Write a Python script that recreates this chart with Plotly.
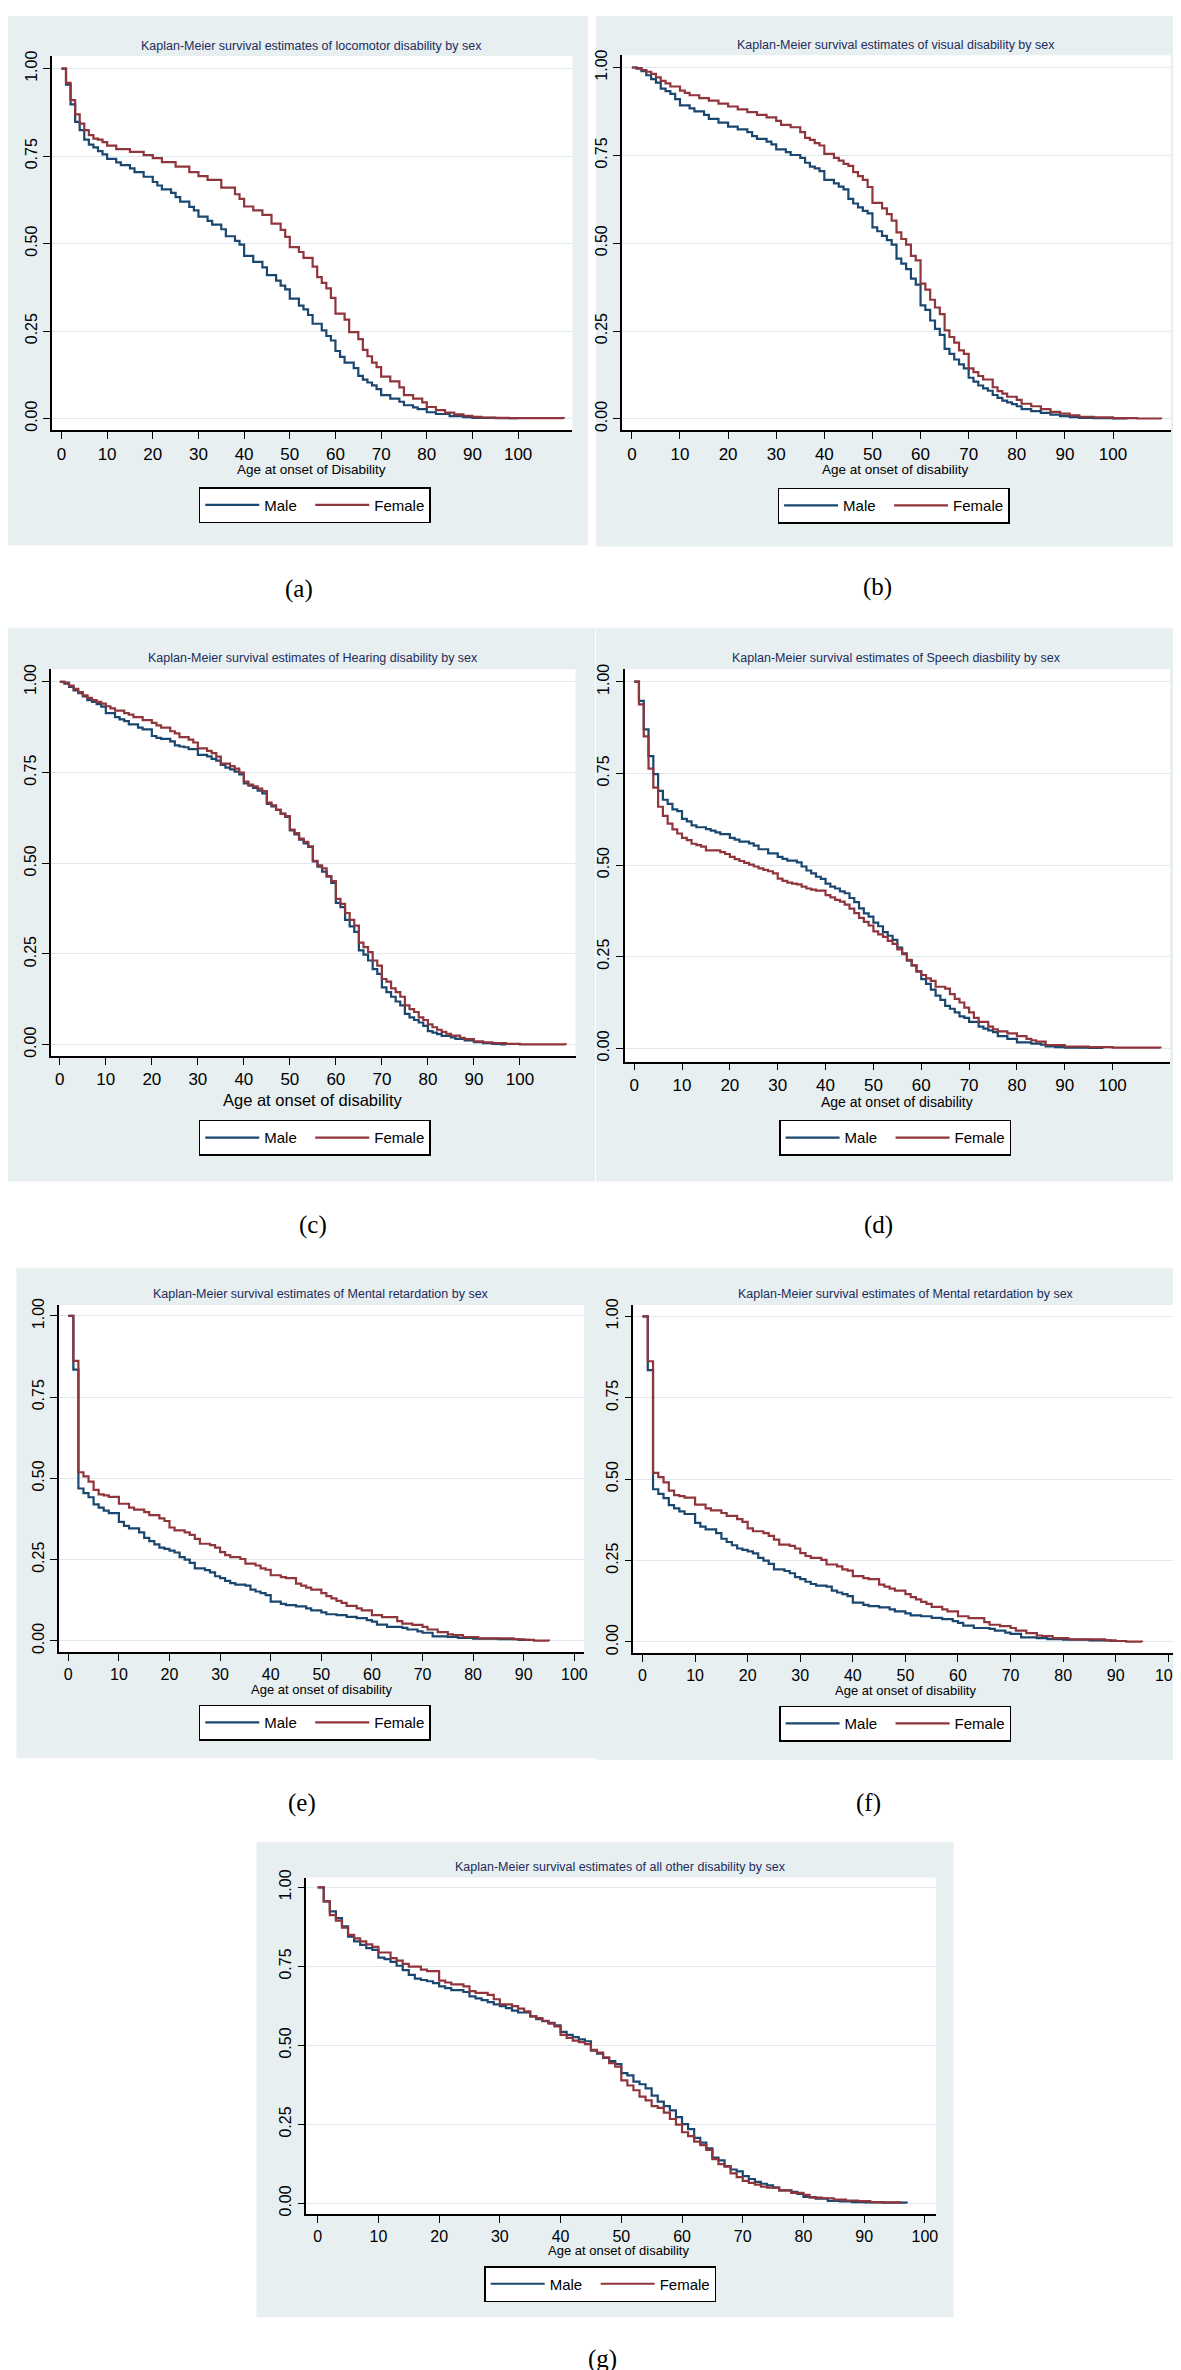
import plotly.graph_objects as go

# ---------------- data ----------------
a_male_age = [0,1,2,3,4,5,6,7,8,9,10,12,13,15,16,18,20,21,22,24,25,26,28,29,30,32,33,35,36,38,39,40,42,44,45,47,48,49,50,52,53,54,55,57,58,59,60,61,62,64,65,66,67,68,69,70,72,74,75,77,78,80,82,85,88,90,95,100]
a_male_surv = [1.0,0.954,0.898,0.848,0.824,0.797,0.783,0.775,0.764,0.755,0.742,0.732,0.724,0.715,0.704,0.691,0.676,0.666,0.655,0.645,0.633,0.62,0.605,0.595,0.577,0.565,0.554,0.541,0.521,0.508,0.497,0.465,0.448,0.432,0.41,0.394,0.38,0.369,0.343,0.323,0.312,0.296,0.271,0.252,0.236,0.223,0.193,0.176,0.16,0.144,0.122,0.111,0.103,0.095,0.084,0.067,0.057,0.048,0.038,0.032,0.027,0.018,0.013,0.007,0.004,0.002,0.001,0.0]
a_female_age = [0,1,2,3,4,5,6,7,8,9,10,12,15,18,20,22,25,28,30,32,35,38,39,40,42,44,46,48,49,50,52,53,55,56,57,58,59,60,62,63,65,66,67,68,69,70,72,74,75,77,79,80,82,84,86,88,90,92,95,98,110]
a_female_surv = [1.0,0.959,0.91,0.869,0.843,0.824,0.81,0.80,0.797,0.79,0.78,0.77,0.762,0.753,0.744,0.733,0.72,0.704,0.693,0.682,0.66,0.641,0.628,0.606,0.595,0.582,0.557,0.539,0.519,0.49,0.476,0.459,0.434,0.404,0.388,0.372,0.345,0.30,0.283,0.247,0.227,0.196,0.178,0.16,0.147,0.12,0.106,0.089,0.067,0.057,0.046,0.033,0.024,0.017,0.012,0.008,0.005,0.003,0.002,0.001,0.0]

b_male_age = [0,1,2,3,4,5,6,7,8,9,10,12,13,15,16,18,20,22,24,25,26,28,29,30,32,33,35,36,37,38,39,40,42,43,44,45,46,47,48,49,50,51,52,53,54,55,56,57,58,59,60,61,62,63,64,65,66,67,68,69,70,71,72,73,74,75,76,77,78,79,80,81,83,85,87,89,91,93,96,100,103]
b_male_surv = [1.0,0.997,0.99,0.978,0.967,0.957,0.94,0.933,0.925,0.91,0.892,0.884,0.875,0.865,0.854,0.843,0.832,0.824,0.816,0.805,0.797,0.789,0.781,0.767,0.759,0.751,0.743,0.729,0.718,0.713,0.705,0.68,0.67,0.661,0.653,0.626,0.613,0.602,0.592,0.585,0.545,0.534,0.521,0.509,0.496,0.456,0.442,0.426,0.399,0.382,0.323,0.31,0.28,0.256,0.239,0.199,0.185,0.169,0.155,0.144,0.117,0.106,0.095,0.087,0.08,0.068,0.06,0.052,0.047,0.042,0.036,0.028,0.022,0.017,0.012,0.008,0.005,0.003,0.002,0.001,0.0]
b_female_age = [0,1,2,3,4,5,6,7,8,10,11,12,14,16,18,20,22,24,26,28,30,31,33,35,36,37,38,39,40,42,43,44,45,46,47,48,49,50,52,53,54,55,56,57,58,59,60,61,62,63,64,65,66,67,68,69,70,71,72,73,75,76,77,78,80,81,83,85,87,89,91,93,96,100,105,110]
b_female_surv = [1.0,0.998,0.993,0.988,0.982,0.972,0.962,0.955,0.946,0.934,0.928,0.921,0.913,0.906,0.897,0.889,0.881,0.873,0.865,0.858,0.848,0.837,0.83,0.816,0.80,0.794,0.785,0.778,0.754,0.743,0.735,0.726,0.72,0.702,0.691,0.68,0.66,0.615,0.599,0.583,0.564,0.531,0.512,0.496,0.464,0.451,0.385,0.368,0.339,0.317,0.298,0.252,0.233,0.217,0.195,0.185,0.144,0.133,0.122,0.112,0.09,0.079,0.072,0.063,0.054,0.043,0.036,0.028,0.02,0.015,0.01,0.006,0.004,0.002,0.001,0.0]

c_male_age = [0,1,2,3,4,5,6,7,8,9,10,12,13,14,15,17,18,20,21,22,24,25,26,27,28,30,32,33,34,35,36,37,38,39,40,41,42,43,44,45,46,47,48,49,50,51,52,53,54,55,56,57,58,59,60,61,62,63,64,65,66,67,68,69,70,71,72,73,74,75,76,77,78,79,80,81,82,83,85,86,88,90,92,94,96,97]
c_male_surv = [1.0,0.995,0.986,0.977,0.969,0.96,0.95,0.945,0.939,0.932,0.914,0.903,0.897,0.892,0.883,0.874,0.869,0.851,0.846,0.843,0.836,0.825,0.822,0.82,0.815,0.799,0.795,0.788,0.783,0.771,0.764,0.759,0.753,0.745,0.72,0.714,0.708,0.70,0.693,0.664,0.657,0.647,0.637,0.628,0.591,0.58,0.565,0.555,0.545,0.505,0.491,0.477,0.463,0.446,0.391,0.379,0.344,0.326,0.311,0.26,0.248,0.232,0.208,0.195,0.158,0.145,0.132,0.119,0.108,0.085,0.075,0.068,0.061,0.052,0.037,0.033,0.029,0.024,0.02,0.016,0.012,0.007,0.004,0.002,0.001,0.0]
c_female_age = [0,1,2,3,4,5,6,7,8,9,10,11,12,14,15,16,18,20,21,22,24,25,26,28,29,30,32,33,34,35,37,38,39,40,41,42,43,44,45,46,47,48,49,50,51,52,53,54,55,56,57,58,59,60,61,62,63,64,65,66,67,68,69,70,71,72,73,74,75,76,77,78,79,80,81,82,83,84,85,87,88,90,92,94,97,100,110]
c_female_surv = [1.0,0.998,0.99,0.981,0.972,0.963,0.956,0.95,0.945,0.94,0.933,0.927,0.921,0.914,0.91,0.903,0.895,0.887,0.88,0.874,0.864,0.858,0.848,0.841,0.833,0.817,0.81,0.804,0.794,0.775,0.768,0.761,0.75,0.725,0.717,0.712,0.706,0.699,0.667,0.66,0.648,0.636,0.63,0.593,0.583,0.568,0.559,0.547,0.507,0.494,0.486,0.465,0.451,0.402,0.388,0.363,0.344,0.328,0.281,0.269,0.255,0.232,0.218,0.181,0.174,0.155,0.145,0.132,0.108,0.098,0.09,0.075,0.068,0.056,0.048,0.041,0.035,0.03,0.025,0.019,0.015,0.009,0.006,0.004,0.002,0.001,0.0]

d_male_age = [0,1,2,3,4,5,6,7,8,9,10,11,12,13,15,16,17,18,20,21,22,24,25,26,28,30,31,32,34,35,36,37,38,39,40,41,42,43,44,45,46,47,48,49,50,51,52,53,54,55,56,57,58,59,60,61,62,63,64,65,66,67,68,69,70,72,73,74,75,76,78,80,83,85,86,88,90,95,98]
d_male_surv = [1.0,0.948,0.87,0.797,0.748,0.702,0.678,0.667,0.652,0.647,0.626,0.619,0.608,0.603,0.598,0.594,0.589,0.584,0.574,0.569,0.564,0.559,0.553,0.543,0.532,0.522,0.517,0.512,0.507,0.496,0.485,0.477,0.468,0.462,0.449,0.441,0.436,0.428,0.423,0.41,0.399,0.382,0.368,0.359,0.343,0.333,0.317,0.307,0.296,0.275,0.259,0.239,0.226,0.21,0.189,0.176,0.16,0.144,0.132,0.116,0.108,0.098,0.087,0.083,0.072,0.059,0.054,0.049,0.044,0.033,0.026,0.016,0.013,0.01,0.005,0.003,0.002,0.001,0.0]
d_female_age = [0,1,2,3,4,5,6,7,8,9,10,11,12,13,14,15,18,19,20,21,22,23,24,25,26,27,28,29,30,31,32,33,34,35,36,37,38,40,41,42,43,44,45,46,47,48,49,50,51,52,53,54,55,56,57,58,59,60,61,62,63,65,66,67,68,69,70,71,72,74,75,76,78,80,82,83,84,86,90,95,100,110]
d_female_surv = [1.0,0.938,0.851,0.763,0.711,0.659,0.634,0.613,0.597,0.586,0.574,0.568,0.558,0.554,0.55,0.54,0.535,0.53,0.522,0.516,0.511,0.506,0.501,0.496,0.491,0.487,0.483,0.477,0.463,0.457,0.452,0.449,0.447,0.441,0.436,0.433,0.43,0.418,0.412,0.405,0.40,0.392,0.381,0.369,0.356,0.345,0.335,0.319,0.311,0.304,0.293,0.285,0.27,0.257,0.241,0.226,0.21,0.20,0.191,0.184,0.168,0.163,0.148,0.135,0.125,0.111,0.098,0.083,0.072,0.059,0.052,0.046,0.041,0.033,0.026,0.022,0.018,0.009,0.005,0.003,0.002,0.0]

# Mental retardation (panels e and f show the same estimates)
mr_male_age = [0,1,2,3,4,5,6,7,8,10,11,12,14,15,16,17,18,19,20,21,22,23,24,25,27,28,29,30,31,32,33,35,36,37,38,39,40,42,43,45,47,48,50,51,53,55,57,59,60,61,63,66,67,69,70,72,75,77,80,85,89,91]
mr_male_surv = [1.0,0.835,0.469,0.455,0.442,0.42,0.41,0.401,0.393,0.366,0.354,0.346,0.334,0.317,0.307,0.297,0.287,0.283,0.278,0.272,0.258,0.25,0.24,0.223,0.218,0.211,0.199,0.193,0.185,0.178,0.173,0.17,0.158,0.152,0.147,0.141,0.121,0.114,0.11,0.106,0.10,0.094,0.088,0.082,0.079,0.074,0.07,0.064,0.059,0.05,0.043,0.04,0.035,0.029,0.025,0.014,0.012,0.009,0.007,0.005,0.003,0.0]
mr_female_age = [0,1,2,3,4,5,6,7,8,10,12,13,15,16,18,19,20,21,23,24,25,26,28,29,30,31,32,34,35,37,38,39,40,42,43,45,46,47,48,50,51,52,53,54,55,57,58,60,62,65,66,68,70,71,73,75,76,78,81,88,90,92,95]
mr_female_surv = [1.0,0.862,0.519,0.506,0.49,0.465,0.451,0.448,0.443,0.422,0.41,0.404,0.396,0.387,0.377,0.369,0.349,0.34,0.334,0.326,0.314,0.299,0.295,0.287,0.273,0.264,0.258,0.252,0.238,0.232,0.223,0.219,0.202,0.196,0.193,0.176,0.17,0.164,0.158,0.147,0.138,0.131,0.123,0.117,0.108,0.10,0.094,0.079,0.073,0.061,0.053,0.049,0.043,0.035,0.027,0.02,0.018,0.012,0.008,0.005,0.003,0.001,0.0]

g_male_age = [0,1,2,3,4,5,6,7,8,9,10,11,12,13,14,15,16,17,18,19,20,21,22,24,25,26,27,28,29,30,31,32,33,35,36,37,38,39,40,41,42,43,44,45,46,47,48,49,50,51,52,53,54,55,56,57,58,59,60,61,62,63,64,65,66,67,68,69,70,71,72,73,74,75,76,78,79,80,82,84,86,88,90,93,97]
g_male_surv = [1.0,0.956,0.924,0.903,0.877,0.844,0.829,0.818,0.808,0.802,0.778,0.773,0.764,0.752,0.738,0.723,0.711,0.707,0.703,0.697,0.687,0.681,0.675,0.669,0.655,0.649,0.643,0.637,0.63,0.624,0.618,0.61,0.604,0.592,0.583,0.577,0.571,0.563,0.543,0.533,0.526,0.519,0.513,0.483,0.474,0.46,0.45,0.441,0.412,0.405,0.385,0.377,0.364,0.341,0.322,0.308,0.294,0.273,0.251,0.235,0.207,0.192,0.174,0.145,0.136,0.118,0.107,0.101,0.086,0.077,0.068,0.062,0.057,0.05,0.041,0.036,0.03,0.02,0.015,0.008,0.006,0.004,0.003,0.002,0.0]
g_female_age = [0,1,2,3,4,5,6,7,8,9,10,12,13,14,15,17,18,20,21,22,24,25,26,28,29,30,32,33,34,35,36,37,38,39,40,41,42,43,44,45,46,47,48,49,50,51,52,53,54,55,56,57,58,59,60,61,62,63,64,65,66,67,68,69,70,71,72,73,74,76,78,80,81,83,85,87,89,91,93,96]
g_female_surv = [1.0,0.956,0.912,0.895,0.873,0.85,0.839,0.829,0.82,0.812,0.794,0.776,0.768,0.758,0.749,0.74,0.735,0.705,0.699,0.693,0.687,0.672,0.666,0.66,0.646,0.63,0.624,0.616,0.608,0.592,0.586,0.578,0.569,0.56,0.533,0.524,0.515,0.51,0.504,0.486,0.477,0.462,0.444,0.433,0.389,0.373,0.358,0.338,0.326,0.308,0.302,0.287,0.267,0.249,0.225,0.213,0.195,0.184,0.169,0.14,0.124,0.116,0.095,0.083,0.071,0.065,0.059,0.053,0.05,0.041,0.033,0.027,0.018,0.016,0.012,0.009,0.007,0.004,0.003,0.0]

titles = [
    "Kaplan-Meier survival estimates of locomotor disability by sex",
    "Kaplan-Meier survival estimates of visual disability by sex",
    "Kaplan-Meier survival estimates of Hearing disability by sex",
    "Kaplan-Meier survival estimates of Speech diasbility by sex",
    "Kaplan-Meier survival estimates of Mental retardation by sex",
    "Kaplan-Meier survival estimates of Mental retardation by sex",
    "Kaplan-Meier survival estimates of all other disability by sex",
]
x_titles = ["Age at onset of Disability"] + ["Age at onset of disability"] * 6
captions = ["(a)", "(b)", "(c)", "(d)", "(e)", "(f)", "(g)"]
series_names = ["Male", "Female"]
x_ticks = [0, 10, 20, 30, 40, 50, 60, 70, 80, 90, 100]
y_ticks = [0.0, 0.25, 0.5, 0.75, 1.0]
y_tick_text = ["0.00", "0.25", "0.50", "0.75", "1.00"]

curves = [
    ((a_male_age, a_male_surv), (a_female_age, a_female_surv)),
    ((b_male_age, b_male_surv), (b_female_age, b_female_surv)),
    ((c_male_age, c_male_surv), (c_female_age, c_female_surv)),
    ((d_male_age, d_male_surv), (d_female_age, d_female_surv)),
    ((mr_male_age, mr_male_surv), (mr_female_age, mr_female_surv)),
    ((mr_male_age, mr_male_surv), (mr_female_age, mr_female_surv)),
    ((g_male_age, g_male_surv), (g_female_age, g_female_surv)),
]

# ---------------- layout geometry (pixels) ----------------
W, H = 1181, 2370
geo = [
    dict(plot=(44, 40.2, 566.4, 416.4), xr=(-2.10, 111.9), yr=(-0.034, 1.036), tick=17,
         bg=(0, 0, 582, 532), title=(305, 30), xt=(305, 456, 13.5), leg=(191.4, 473.4), cap=(292, 576)),
    dict(plot=(616, 39.4, 1166.7, 416.4), xr=(-2.07, 112.0), yr=(-0.033, 1.035), tick=17,
         bg=(590, 0, 1181, 533), title=(891, 29), xt=(891, 456, 13.5), leg=(772.2, 473.8), cap=(872, 574)),
    dict(plot=(42.9, 656.3, 569.5, 1045.1), xr=(-1.97, 112.1), yr=(-0.032, 1.035), tick=17,
         bg=(0, 614.5, 589, 1171), title=(306, 645), xt=(306, 1089, 16.5), leg=(191.4, 1109), cap=(306, 1215)),
    dict(plot=(618.7, 656.3, 1166, 1050.4), xr=(-2.0, 112.0), yr=(-0.036, 1.034), tick=17,
         bg=(590, 614.5, 1181, 1171), title=(892, 645), xt=(892, 1091, 14), leg=(773.7, 1109), cap=(873, 1215)),
    dict(plot=(51.3, 1294.9, 577.9, 1643.9), xr=(-1.81, 101.9), yr=(-0.035, 1.034), tick=16,
         bg=(8.4, 1258.2, 590, 1750.3), title=(314, 1284), xt=(314.6, 1681, 13), leg=(191.4, 1696.4), cap=(294.6, 1795)),
    dict(plot=(627.5, 1294.9, 1174.8, 1644.7), xr=(-1.74, 102.0), yr=(-0.034, 1.035), tick=16,
         bg=(590, 1258.2, 1181, 1751.9), title=(900.7, 1284), xt=(900.8, 1682, 13), leg=(773.7, 1697.5), cap=(863.4, 1795)),
    dict(plot=(299.4, 1870.3, 931, 2208), xr=(-1.86, 101.8), yr=(-0.033, 1.031), tick=16,
         bg=(249.4, 1834.6, 948.8, 2312), title=(614.5, 1860), xt=(612.5, 2245, 13), leg=(477.8, 2260.5), cap=(597, 2354)),
]

NAVY = "#1a476f"
MAROON = "#90353b"
BG = "#e7eff1"
GRID = "#dfe9eb"
TITLE_C = "#1c2c5b"
NARROW = "Liberation Sans Narrow, Arial Narrow, Liberation Sans, Arial, sans-serif"
SANS = "Liberation Sans, Arial, sans-serif"
SERIF = "Liberation Serif, Times New Roman, serif"

fx = lambda px: px / W
fy = lambda py: 1 - py / H

fig = go.Figure()
shapes, annotations = [], []
layout = dict(width=W, height=H, margin=dict(l=0, r=0, t=0, b=0),
              paper_bgcolor="white", plot_bgcolor="white", showlegend=True)

for i, (g, title, xtitle, cap, (male, female)) in enumerate(zip(geo, titles, x_titles, captions, curves), start=1):
    sfx = "" if i == 1 else str(i)
    l, t, r, b = g["plot"]
    bx0, by0, bx1, by1 = g["bg"]
    shapes.append(dict(type="rect", xref="paper", yref="paper", x0=fx(bx0), x1=fx(bx1), y0=fy(by1), y1=fy(by0),
                       fillcolor=BG, line=dict(width=0), layer="below"))
    shapes.append(dict(type="rect", xref="paper", yref="paper", x0=fx(l), x1=fx(r), y0=fy(b), y1=fy(t),
                       fillcolor="white", line=dict(width=0), layer="below"))
    layout["xaxis" + sfx] = dict(
        domain=[fx(l), fx(r)], anchor="y" + sfx, range=list(g["xr"]),
        tickmode="array", tickvals=x_ticks, ticks="outside", ticklen=7, tickwidth=1.2, tickcolor="black",
        showline=True, linecolor="black", linewidth=1.5, showgrid=False, zeroline=False,
        tickfont=dict(family=NARROW, size=g["tick"], color="black"), fixedrange=True)
    layout["yaxis" + sfx] = dict(
        domain=[fy(b), fy(t)], anchor="x" + sfx, range=list(g["yr"]),
        tickmode="array", tickvals=y_ticks, ticktext=y_tick_text, tickangle=-90,
        ticks="outside", ticklen=7, tickwidth=1.2, tickcolor="black",
        showline=True, linecolor="black", linewidth=1.5, showgrid=True, gridcolor=GRID, gridwidth=1.2,
        zeroline=False, tickfont=dict(family=SANS, size=16, color="black"), fixedrange=True)
    for (ages, surv), name, color in zip((male, female), series_names, (NAVY, MAROON)):
        fig.add_trace(go.Scatter(
            x=ages, y=surv, mode="lines", name=name,
            line=dict(color=color, width=2.2, shape="hv"),
            xaxis="x" + sfx, yaxis="y" + sfx, legend="legend" + sfx,
            legendwidth=41 if name == "Male" else 50, hoverinfo="skip"))
    lx, ly = g["leg"]
    layout["legend" + sfx] = dict(
        x=fx(lx), y=fy(ly), xanchor="left", yanchor="top", orientation="h",
        bgcolor="white", bordercolor="black", borderwidth=1.5, itemwidth=54,
        font=dict(family=NARROW, size=15, color="black"), traceorder="normal")
    tx, ty = g["title"]
    annotations.append(dict(text=title, x=fx(tx), y=fy(ty), xref="paper", yref="paper",
                            xanchor="center", yanchor="middle", showarrow=False,
                            font=dict(family=NARROW, size=12.5, color=TITLE_C)))
    ax, ay, asz = g["xt"]
    annotations.append(dict(text=xtitle, x=fx(ax), y=fy(ay), xref="paper", yref="paper",
                            xanchor="center", yanchor="middle", showarrow=False,
                            font=dict(family=NARROW, size=asz, color="black")))
    cx, cy = g["cap"]
    annotations.append(dict(text=cap, x=fx(cx), y=fy(cy), xref="paper", yref="paper",
                            xanchor="center", yanchor="middle", showarrow=False,
                            font=dict(family=SERIF, size=25, color="black")))

layout["shapes"] = shapes
layout["annotations"] = annotations
fig.update_layout(**layout)
fig.write_html("out.html")
